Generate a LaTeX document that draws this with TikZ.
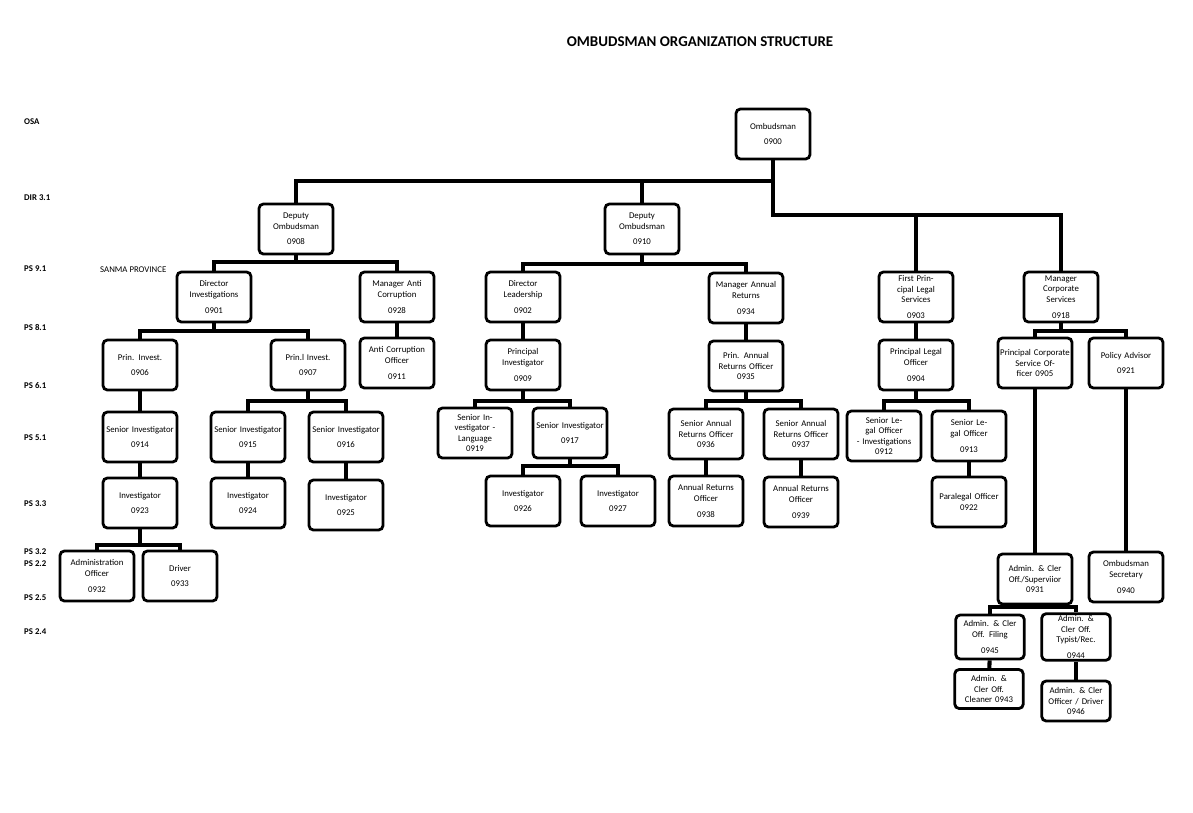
\documentclass[tikz,border=0pt]{standalone}
\usepackage{fontspec}
\setmainfont{Carlito}
\usetikzlibrary{positioning}
\tikzset{
  base/.style={draw, line width=1.6pt, rounded corners=2.5pt, align=center, inner sep=1pt,
               font={\fontsize{5}{6}\selectfont}},
  post/.style={base, minimum width=1.48cm, minimum height=1cm, text width=1.4cm},
  post_small/.style={base, minimum width=1.36cm, minimum height=0.88cm, text width=1.3cm},
  % level labels on the left margin
  grade/.style={anchor=west, font={\fontsize{5}{6}\selectfont\bfseries}},
  % connector line style
  link/.style={draw, line width=2.3pt}
}
\newcommand{\orgedge}[3]{\draw[link] (#1.south) -- (#1.south |- 0,#3) -| (#2.north);}
\begin{document}
\begin{tikzpicture}[x=0.02cm, y=-0.02cm]
\useasboundingbox (0,0) rectangle (1193,812);

\node [font={\fontsize{8.5}{10}\selectfont\bfseries}] (title) at (700,42) {OMBUDSMAN ORGANIZATION STRUCTURE};

% -------------------------------------------------
% grade levels
\node [grade] (osa) at (18,122) {OSA};
\node [grade] (dir31) at (18,198) {DIR 3.1};
\node [grade] (ps91) at (18,269) {PS 9.1};
\node [grade] (ps81) at (18,327) {PS 8.1};
\node [grade] (ps61) at (18,386) {PS 6.1};
\node [grade] (ps51) at (18,438) {PS 5.1};
\node [grade] (ps33) at (18,504) {PS 3.3};
\node [grade] (ps32) at (18,552) {PS 3.2};
\node [grade] (ps22) at (18,564) {PS 2.2};
\node [grade] (ps25) at (18,598) {PS 2.5};
\node [grade] (ps24) at (18,632) {PS 2.4};
\node [anchor=west, font={\fontsize{5}{6}\selectfont}] (sanma) at (94,270) {SANMA PROVINCE};

% -------------------------------------------------
% top
\node [post] (o900) at (773,134) {Ombudsman\\[3pt]0900};
\node [post] (o908) at (296,229) {Deputy\\Ombudsman\\[3pt]0908};
\node [post] (o910) at (642,229) {Deputy\\Ombudsman\\[3pt]0910};

% investigations
\node [post] (o901) at (214,297) {Director\\Investigations\\[3pt]0901};
\node [post] (o928) at (397,297) {Manager Anti\\Corruption\\[3pt]0928};
\node [post] (o911) at (397,363) {Anti Corruption\\Officer\\[3pt]0911};
\node [post] (o906) at (140,365) {Prin. Invest.\\[3pt]0906};
\node [post] (o907) at (308,365) {Prin.l Invest.\\[3pt]0907};
\node [post] (o914) at (140,437) {Senior Investigator\\[3pt]0914};
\node [post] (o915) at (248,437) {Senior Investigator\\[3pt]0915};
\node [post] (o916) at (346,437) {Senior Investigator\\[3pt]0916};
\node [post] (o923) at (140,503) {Investigator\\[3pt]0923};
\node [post] (o924) at (248,503) {Investigator\\[3pt]0924};
\node [post] (o925) at (346,505) {Investigator\\[3pt]0925};
\node [post] (o932) at (97,576) {Administration\\Officer\\[3pt]0932};
\node [post] (o933) at (180,576) {Driver\\[3pt]0933};

% leadership
\node [post] (o902) at (523,297) {Director Leadership\\[3pt]0902};
\node [post] (o909) at (523,365) {Principal\\Investigator\\[3pt]0909};
\node [post] (o919) at (475,433) {Senior Investigator -\\Language\\0919};
\node [post] (o917) at (570,433) {Senior Investigator\\[3pt]0917};
\node [post] (o926) at (523,501) {Investigator\\[3pt]0926};
\node [post] (o927) at (618,501) {Investigator\\[3pt]0927};

% annual returns
\node [post] (o934) at (746,298) {Manager Annual\\Returns\\[3pt]0934};
\node [post] (o935) at (746,366) {Prin. Annual\\Returns Officer\\0935};
\node [post] (o936) at (706,434) {Senior Annual\\Returns Officer\\0936};
\node [post] (o937) at (801,434) {Senior Annual\\Returns Officer\\0937};
\node [post] (o938) at (706,501) {Annual Returns\\Officer\\[3pt]0938};
\node [post] (o939) at (801,502) {Annual Returns\\Officer\\[3pt]0939};

% legal
\node [post] (o903) at (916,297) {First Principal Legal\\Services\\[3pt]0903};
\node [post] (o904) at (916,365) {Principal Legal\\Officer\\[3pt]0904};
\node [post] (o912) at (884,436) {Senior Legal Officer\\- Investigations\\0912};
\node [post] (o913) at (969,436) {Senior Legal Officer\\[3pt]0913};
\node [post] (o922) at (969,502) {Paralegal Officer\\0922};

% corporate services
\node [post] (o918) at (1061,297) {Manager Corporate\\Services\\[3pt]0918};
\node [post] (o905) at (1035,363) {Principal Corporate\\Service Officer 0905};
\node [post] (o921) at (1126,363) {Policy Advisor\\[3pt]0921};
\node [post] (o931) at (1035,579) {Admin. \& Cler\\Off./Superviior\\0931};
\node [post] (o940) at (1126,577) {Ombudsman\\Secretary\\[3pt]0940};
\node [post_small] (o945) at (990,637) {Admin. \& Cler\\Off. Filing\\[3pt]0945};
\node [post_small] (o944) at (1076,637) {Admin. \& Cler Off.\\Typist/Rec.\\[3pt]0944};
\node [post_small, minimum height=0.78cm] (o943) at (989,689) {Admin. \& Cler Off.\\Cleaner 0943};
\node [post_small, minimum height=0.8cm] (o946) at (1076,701) {Admin. \& Cler\\Officer / Driver\\0946};

% -------------------------------------------------
% connectors
\draw[link] (o900.south) -- (o900.south |- 0,181) -| (o908.north);
\draw[link] (o900.south |- 0,181) -| (o910.north);
\draw[link] (o900.south |- 0,181) -- (o900.south |- 0,215) -| (o903.north);
\draw[link] (o900.south |- 0,215) -| (o918.north);

\orgedge{o908}{o901}{262}
\orgedge{o908}{o928}{262}
\draw[link] (o928) -- (o911);
\orgedge{o901}{o906}{331}
\orgedge{o901}{o907}{331}
\draw[link] (o906) -- (o914);
\draw[link] (o914) -- (o923);
\orgedge{o907}{o915}{401}
\orgedge{o907}{o916}{401}
\draw[link] (o915) -- (o924);
\draw[link] (o916) -- (o925);
\orgedge{o923}{o932}{545}
\orgedge{o923}{o933}{545}

\orgedge{o910}{o902}{264}
\orgedge{o910}{o934}{264}
\draw[link] (o902) -- (o909);
\orgedge{o909}{o919}{401}
\orgedge{o909}{o917}{401}
\orgedge{o917}{o926}{466}
\orgedge{o917}{o927}{466}
\draw[link] (o934) -- (o935);
\orgedge{o935}{o936}{401}
\orgedge{o935}{o937}{401}
\draw[link] (o936) -- (o938);
\draw[link] (o937) -- (o939);

\draw[link] (o903) -- (o904);
\orgedge{o904}{o912}{401}
\orgedge{o904}{o913}{401}
\draw[link] (o913) -- (o922);

\orgedge{o918}{o905}{331}
\orgedge{o918}{o921}{331}
\draw[link] (o905) -- (o931);
\draw[link] (o921) -- (o940);
\orgedge{o931}{o945}{607}
\orgedge{o931}{o944}{607}
\draw[link] (o945) -- (o943);
\draw[link] (o944) -- (o946);
\end{tikzpicture}
\end{document}
